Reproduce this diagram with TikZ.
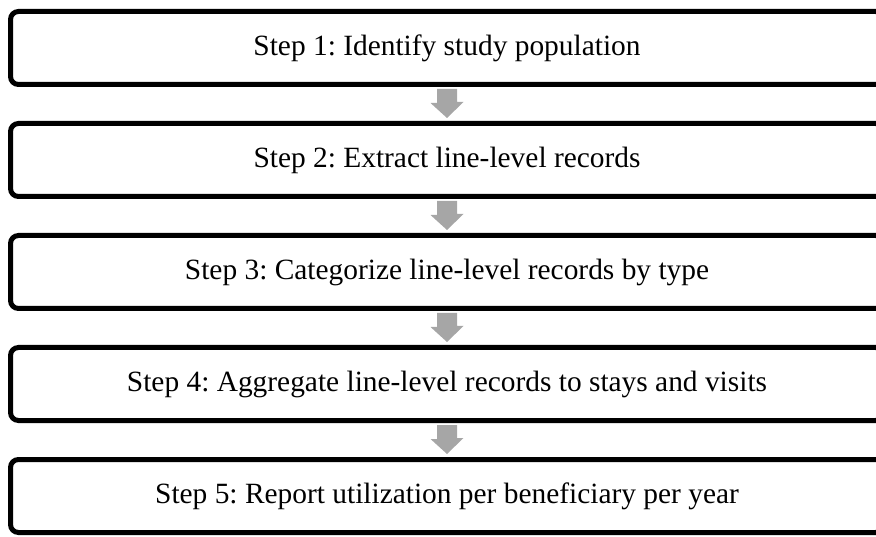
\documentclass[tikz,border=0pt]{standalone}
\usepackage{fontspec}
\setmainfont{Liberation Serif}
\usepackage{tikz}
\usetikzlibrary{calc, positioning}
\usepackage{xcolor}
\definecolor{StepBlack}{RGB}{0, 0, 0}
\definecolor{FlowGray}{RGB}{166, 166, 166}
\frenchspacing
\tikzset{%
  step_box/.style={%
    rectangle,%
    rounded corners=8pt,%
    draw=StepBlack,%
    line width=5pt,%
    outer sep=0pt,%
    minimum width=873pt,%
    minimum height=73pt,%
    font={\fontsize{29.4}{35}\selectfont},%
    align=center%
  },
  flow_arrow/.style={%
    fill=FlowGray,%
    draw=none%
  },
}

\begin{document}
\begin{tikzpicture}[x=1pt, y=1pt]
    \useasboundingbox (0, 0) rectangle (876, -537);
    \clip (0, 0) rectangle (876, -537);

    \node [step_box] (Step1) at (447, -48) {Step 1: Identify study population};
    \node [step_box, below = 39pt of Step1] (Step2) {Step 2: Extract line-level records};
    \node [step_box, below = 39pt of Step2] (Step3) {Step 3: Categorize line-level records by type};
    \node [step_box, below = 39pt of Step3] (Step4) {Step 4: Aggregate line-level records to stays and visits};
    \node [step_box, below = 39pt of Step4] (Step5) {Step 5: Report utilization per beneficiary per year};

    % block arrows between the steps
    \foreach \from/\to in {Step1/Step2, Step2/Step3, Step3/Step4, Step4/Step5}
      \fill [flow_arrow]
        ([xshift=-10pt, yshift=-4.5pt]\from.south)
        -- ++(20, 0)
        -- ++(0, -13)
        -- ++(6.5, 0)
        -- ([yshift=5.5pt]\to.north)
        -- ++(-16.5, 15)
        -- ++(6.5, 0)
        -- cycle;
\end{tikzpicture}
\end{document}
